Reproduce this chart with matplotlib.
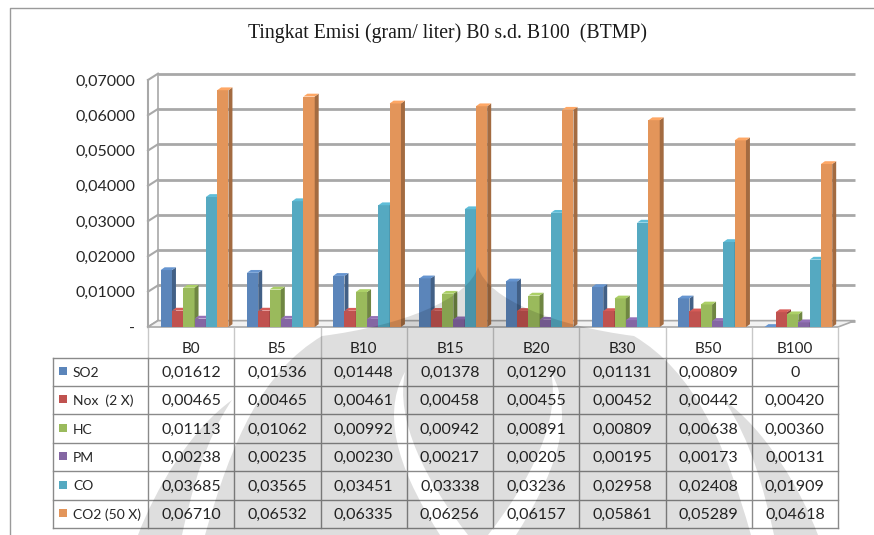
import matplotlib.pyplot as plt
from matplotlib.patches import Polygon, Rectangle, PathPatch
from matplotlib.path import Path
from matplotlib.colors import to_rgb

# Emisi per jenis bahan bakar (gram/liter)
categories = ['B0', 'B5', 'B10', 'B15', 'B20', 'B30', 'B50', 'B100']
series_names = ['SO2', 'Nox  (2 X)', 'HC', 'PM', 'CO', 'CO2 (50 X)']
so2 = [0.01612, 0.01536, 0.01448, 0.01378, 0.01290, 0.01131, 0.00809, 0]
nox = [0.00465, 0.00465, 0.00461, 0.00458, 0.00455, 0.00452, 0.00442, 0.00420]
hc = [0.01113, 0.01062, 0.00992, 0.00942, 0.00891, 0.00809, 0.00638, 0.00360]
pm = [0.00238, 0.00235, 0.00230, 0.00217, 0.00205, 0.00195, 0.00173, 0.00131]
co = [0.03685, 0.03565, 0.03451, 0.03338, 0.03236, 0.02958, 0.02408, 0.01909]
co2 = [0.06710, 0.06532, 0.06335, 0.06256, 0.06157, 0.05861, 0.05289, 0.04618]
y_ticks = [0, 0.01, 0.02, 0.03, 0.04, 0.05, 0.06, 0.07]

series = [so2, nox, hc, pm, co, co2]
colors = ['#5b85ba', '#c0524f', '#9aba5c', '#8466a3', '#55a9c1', '#e3955a']

W, H = 874, 535
fig = plt.figure(figsize=(W / 100, H / 100), dpi=100)
fig.patch.set_facecolor('white')

TEXT_FONT = ['Lato', 'DejaVu Sans']
GRID = '#a8a8a8'


def shade(c, f):
    return tuple(min(1, v * f) for v in to_rgb(c))


# area plot (pixel 148..838 horizontal, 0 di y=327, 0.07 di y=80)
ax = fig.add_axes([148 / W, (H - 327) / H, 690 / W, 247 / H])
ax.set_facecolor('none')
ax.set_xlim(-0.5, 7.5)
ax.set_ylim(0, 0.07)
for s in ax.spines.values():
    s.set_visible(False)
ax.set_xticks([])
ax.set_yticks(y_ticks)
ax.set_yticklabels(['-'] + [f'{t:.5f}'.replace('.', ',') for t in y_ticks[1:]],
                   fontsize=11.5, family=TEXT_FONT, color='#262626')
ax.tick_params(axis='y', length=0, pad=9)

dx, dy = 0.116, 0.0018   # kedalaman dinding belakang
bdx, bdy = 0.046, 0.0008  # kedalaman batang

# garis grid di dinding belakang
for t in y_ticks:
    ax.plot([-0.5 + dx, 7.5 + dx + 0.08], [t + dy, t + dy], color=GRID, lw=2,
            solid_capstyle='butt', clip_on=False, zorder=1)
    ax.plot([-0.5, -0.5 + dx], [t, t + dy], color=GRID, lw=1.5, clip_on=False, zorder=1)
ax.plot([-0.5, -0.5], [0, 0.07], color=GRID, lw=1.5, clip_on=False, zorder=1)
ax.plot([-0.5 + dx, -0.5 + dx], [dy, 0.07 + dy], color=GRID, lw=1.2, clip_on=False, zorder=1)

# lantai
ax.add_patch(Polygon([(-0.5, 0), (7.5, 0), (7.5 + dx + 0.08, dy), (-0.5 + dx, dy)],
                     closed=True, facecolor='#f2f2f2', edgecolor=GRID, lw=1.2,
                     clip_on=False, zorder=1.5))

# batang 3D
bw = 0.131
group_w = bw * len(series)
for j, (vals, c) in enumerate(zip(series, colors)):
    xs = [i - group_w / 2 + 0.04 + (j + 0.5) * bw for i in range(len(categories))]
    z = 3 + j
    ax.bar(xs, vals, width=bw, color=c, edgecolor='none', zorder=z, clip_on=False)
    for x, v in zip(xs, vals):
        r = x + bw / 2
        l = x - bw / 2
        ax.add_patch(Polygon([(r, 0), (r + bdx, bdy), (r + bdx, v + bdy), (r, v)],
                             closed=True, facecolor=shade(c, 0.72), edgecolor='none',
                             zorder=z, clip_on=False))
        ax.add_patch(Polygon([(l, v), (r, v), (r + bdx, v + bdy), (l + bdx, v + bdy)],
                             closed=True, facecolor=shade(c, 1.12), edgecolor='none',
                             zorder=z, clip_on=False))

# kanvas piksel untuk judul, bingkai dan tabel data
ov = fig.add_axes([0, 0, 1, 1], zorder=5)
ov.set_facecolor('none')
ov.set_xlim(0, W)
ov.set_ylim(H, 0)
ov.axis('off')

# bingkai grafik
ov.plot([10, 10, W], [H, 8, 8], color='#9a9a9a', lw=1)

ov.text(447, 33, 'Tingkat Emisi (gram/ liter) B0 s.d. B100  (BTMP)', ha='center', va='center',
        family='Liberation Serif', fontsize=14.2, color='#1a1a1a')

# tabel data
col_x = [148 + 86.25 * i for i in range(len(categories) + 1)]
row_y = [358, 386, 414, 443, 471, 500, 528]
LINE = '#8a8a8a'
for x in col_x:
    ov.plot([x, x], [328, 358], color='#c8c8c8', lw=1)
    ov.plot([x, x], [358, 528], color=LINE, lw=1)
for y in row_y:
    ov.plot([53, col_x[-1]], [y, y], color=LINE, lw=1)
ov.plot([53, 53], [358, 528], color=LINE, lw=1)

for i, cat in enumerate(categories):
    cx = (col_x[i] + col_x[i + 1]) / 2
    ov.text(cx, 349, cat, ha='center', va='center', fontsize=11, family=TEXT_FONT,
            color='#262626')

for j, (name, vals, c) in enumerate(zip(series_names, series, colors)):
    cy = (row_y[j] + row_y[j + 1]) / 2 + 1
    ov.add_patch(Rectangle((59, cy - 6), 8, 8, facecolor=c, edgecolor='none'))
    ov.text(73, cy, name, ha='left', va='center', fontsize=10, family=TEXT_FONT,
            color='#262626')
    for i, v in enumerate(vals):
        cx = (col_x[i] + col_x[i + 1]) / 2
        label = '0' if v == 0 else f'{v:.5f}'.replace('.', ',')
        ov.text(cx, cy, label, ha='center', va='center', fontsize=11.5, family=TEXT_FONT,
                color='#262626')

# logo samar di latar (simetris terhadap x=478)
MID = 478
M, C4, L, CL = Path.MOVETO, Path.CURVE4, Path.LINETO, Path.CLOSEPOLY


def mirror(pts):
    return [(2 * MID - x, y) for x, y in pts]


# bentuk utama: ujung nyala di atas, melebar ke bawah
main_l = [(478, 267), (468, 300), (400, 326), (322, 336),
          (262, 372), (232, 440), (205, 535)]
main_pts = main_l + list(reversed(mirror(main_l))) + [(478, 267)]
main_codes = [M, C4, C4, C4, C4, C4, C4,
              L, C4, C4, C4, C4, C4, C4, CL]
# pita terang di dalam bentuk utama, arah berlawanan
hole_l = [(405, 372), (395, 420), (425, 480), (468, 535),
          (440, 535), (405, 480), (378, 420), (405, 372), (405, 372)]
hole_codes = [M, C4, C4, C4, L, C4, C4, C4, CL]
hole_r = mirror(hole_l)
# tanduk luar
horn_l = [(232, 400), (190, 430), (155, 490), (138, 535),
          (182, 535), (192, 490), (205, 440), (232, 400), (232, 400)]
horn_codes = [M, C4, C4, C4, L, C4, C4, C4, CL]
horn_r = mirror(horn_l)

verts = main_pts + hole_l + list(reversed(hole_r[:-1])) + [hole_r[0]]
codes = main_codes + hole_codes + hole_codes
mark = Path(verts, codes)
ov.add_patch(PathPatch(mark, facecolor='black', edgecolor='none', alpha=0.13, zorder=10))
for pts in (horn_l, horn_r):
    ov.add_patch(PathPatch(Path(pts, horn_codes), facecolor='black', edgecolor='none',
                           alpha=0.13, zorder=10))

fig.savefig('out.png', dpi=100)
